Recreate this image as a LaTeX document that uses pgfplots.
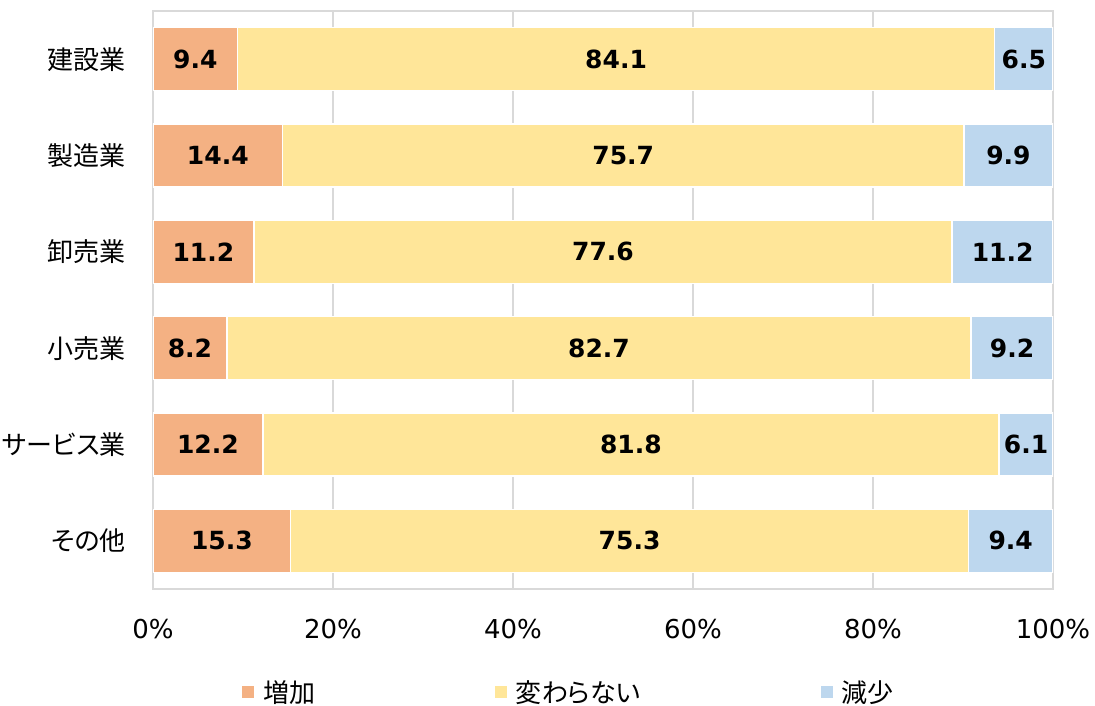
\documentclass[border=0pt]{standalone}
\usepackage{fontspec}
\setmainfont{DejaVu Sans}
\newfontfamily\cjk[RawFeature=+palt]{Noto Sans CJK JP}
\usepackage{pgfplots}
\usepackage{pgfplotstable}
\pgfplotsset{compat=1.18}
\definecolor{cInc}{HTML}{F4B183}
\definecolor{cSame}{HTML}{FFE699}
\definecolor{cDec}{HTML}{BDD7EE}
\definecolor{gridc}{HTML}{D9D9D9}

% decx: drawn length of the last segment (kept within 100 in total); dec: printed value
\pgfplotstableread{
y inc same dec decx
1 9.4 84.1 6.5 6.5
2 14.4 75.7 9.9 9.9
3 11.2 77.6 11.2 11.2
4 8.2 82.7 9.2 9.1
5 12.2 81.8 6.1 6.0
6 15.3 75.3 9.4 9.4
}\data

\begin{document}
\begin{tikzpicture}[x=1pt,y=1pt]
\useasboundingbox (0,0) rectangle (1095,706);
\begin{axis}[
  at={(153pt,117pt)}, anchor=south west,
  scale only axis, width=900pt, height=578pt,
  xbar stacked, bar width=63pt,
  xmin=0, xmax=100, ymin=0.5, ymax=6.5, y dir=reverse,
  ytick={1,2,3,4,5,6},
  yticklabels={建設業,製造業,卸売業,小売業,サービス業,その他},
  xtick={0,20,40,60,80,100},
  xticklabels={0\%,20\%,40\%,60\%,80\%,100\%},
  axis line style={gridc, line width=1.5pt},
  xmajorgrids, grid style={gridc, line width=1.5pt},
  major tick length=0pt,
  xticklabel style={font=\fontsize{26}{30}\selectfont, inner sep=0pt, anchor=north, yshift=-30pt},
  yticklabel style={font=\cjk\fontsize{26}{30}\selectfont, inner sep=0pt, anchor=east, xshift=-27pt},
  point meta=explicit,
  nodes near coords={\pgfmathprintnumber[fixed,fixed zerofill,precision=1,assume math mode=true]{\pgfplotspointmeta}},
  every node near coord/.append style={font=\bfseries\fontsize{25}{30}\selectfont, anchor=center, inner sep=0pt, text=black},
  legend columns=3,
  legend style={draw=none, fill=none, at={(0.462,-0.178)}, anchor=center,
    font=\cjk\fontsize{26}{30}\selectfont,
    /tikz/every even column/.append style={column sep=178pt}},
  legend image code/.code={\fill[#1, draw=none] (0pt,-6pt) rectangle (12pt,6pt); \path (18pt,0pt);},
]
\addplot[fill=cInc, draw=white, line width=1.5pt] table[x=inc, y=y, meta=inc]{\data};
\addlegendentry{増加}
\addplot[fill=cSame, draw=white, line width=1.5pt] table[x=same, y=y, meta=same]{\data};
\addlegendentry{変わらない}
\addplot[fill=cDec, draw=white, line width=1.5pt] table[x=decx, y=y, meta=dec]{\data};
\addlegendentry{減少}
\end{axis}
\end{tikzpicture}
\end{document}
